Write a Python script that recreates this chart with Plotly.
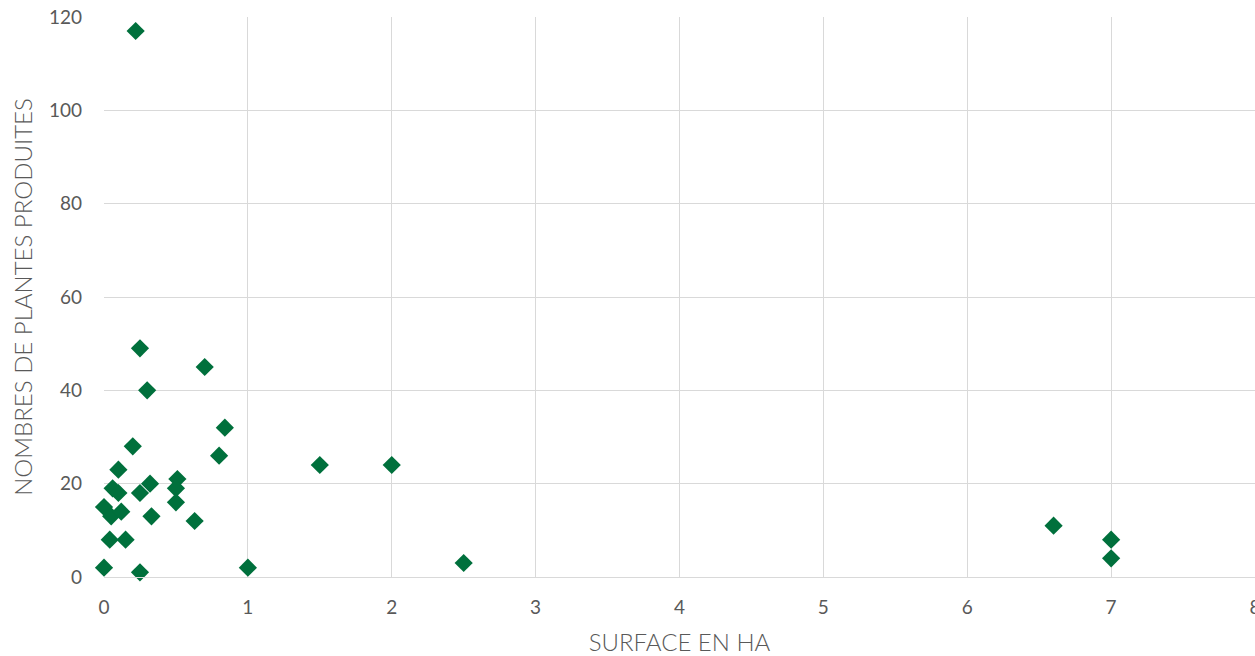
import plotly.graph_objects as go

surface_ha = [0.25, 0.70, 0.30, 0.84, 0.80, 0.20, 0.10, 0.32, 0.51, 0.50,
              0.06, 0.10, 0.25, 0.50, 0.00, 0.05, 0.12, 0.33, 0.63, 0.04,
              0.15, 0.00, 0.25, 1.00, 0.22, 1.50, 2.00, 2.50, 6.60, 7.00, 7.00]
nb_plantes = [49, 45, 40, 32, 26, 28, 23, 20, 21, 19,
              19, 18, 18, 16, 15, 13, 14, 13, 12, 8,
              8, 2, 1, 2, 117, 24, 24, 3, 11, 8, 4]

x_title = "SURFACE EN HA"
y_title = "NOMBRES DE PLANTES PRODUITES"

fig = go.Figure(go.Scatter(
    x=surface_ha, y=nb_plantes, mode="markers", cliponaxis=False,
    marker=dict(symbol="diamond", size=14, color="#00703C", line=dict(width=0)),
    showlegend=False,
))

font_fam = "Lato, 'Open Sans', sans-serif"
grey = "#595959"
fig.update_layout(
    width=1265, height=656,
    margin=dict(l=104, r=10, t=17, b=79),
    paper_bgcolor="white", plot_bgcolor="white",
    font=dict(family=font_fam, color=grey, size=20),
)
fig.update_xaxes(
    range=[0, 8], dtick=1, showgrid=True, gridcolor="#D9D9D9", gridwidth=1.3,
    zeroline=False, showline=True, linecolor="#D9D9D9", linewidth=1.3,
    ticks="", tickfont=dict(size=19, color=grey, weight=400), automargin=False,
    ticklabelstandoff=13,
    title=dict(text=x_title, font=dict(size=24, color=grey, weight=300), standoff=18),
)
fig.update_yaxes(
    range=[0, 120], dtick=20, showgrid=True, gridcolor="#D9D9D9", gridwidth=1.3,
    zeroline=False, showline=False, automargin=False,
    ticks="", tickfont=dict(size=19, color=grey, weight=400), ticklabelstandoff=21,
    title=dict(text=y_title, font=dict(size=24, color=grey, weight=300), standoff=9),
)

fig.write_html(
    "out.html",
    config={"displayModeBar": False},
    post_script="document.body.style.margin='0';document.body.style.overflow='hidden';",
)
